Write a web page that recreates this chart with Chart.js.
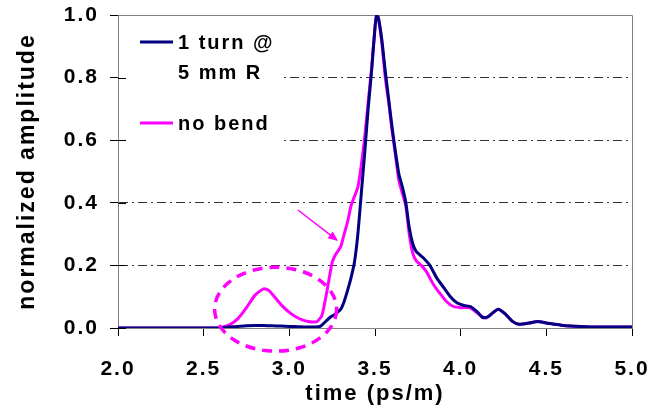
<!DOCTYPE html>
<html>
<head>
<meta charset="utf-8">
<script src="https://cdn.jsdelivr.net/npm/chart.js@4.4.1/dist/chart.umd.min.js"></script>
<style>
  html, body { margin: 0; padding: 0; background: #fff; }
  #wrap { width: 652px; height: 413px; }
</style>
</head>
<body>
<div id="wrap"><canvas id="chart" width="652" height="413"></canvas></div>
<script>
// series labels
const labelTurn = ['1 turn @', '5 mm R'];
const labelNoBend = ['no bend'];

// no bend (magenta)
const timeNoBend = [2.0, 2.3, 2.55, 2.6, 2.65, 2.7, 2.75, 2.8, 2.85, 2.88, 2.92, 2.96, 3.0, 3.04, 3.08, 3.12, 3.16, 3.19, 3.21, 3.23, 3.25, 3.27, 3.30, 3.32, 3.34, 3.36, 3.38, 3.40, 3.42, 3.44, 3.46, 3.48, 3.50, 3.51, 3.52, 3.54, 3.56, 3.58, 3.60, 3.62, 3.64, 3.66, 3.68, 3.70, 3.72, 3.74, 3.77, 3.80, 3.84, 3.88, 3.92, 3.96, 4.0, 4.05, 4.08, 4.12, 4.15, 4.18, 4.22, 4.26, 4.30, 4.34, 4.40, 4.45, 4.50, 4.55, 4.6, 4.7, 4.8, 4.9, 5.0];
const ampNoBend = [0, 0, 0, 0.002, 0.01, 0.03, 0.065, 0.105, 0.125, 0.12, 0.095, 0.07, 0.05, 0.035, 0.025, 0.02, 0.02, 0.04, 0.09, 0.15, 0.21, 0.235, 0.26, 0.30, 0.34, 0.39, 0.42, 0.45, 0.52, 0.61, 0.72, 0.83, 0.96, 1.0, 0.99, 0.91, 0.80, 0.72, 0.63, 0.55, 0.47, 0.43, 0.39, 0.30, 0.24, 0.215, 0.20, 0.18, 0.14, 0.11, 0.083, 0.068, 0.065, 0.065, 0.055, 0.038, 0.032, 0.045, 0.06, 0.045, 0.022, 0.012, 0.016, 0.021, 0.016, 0.012, 0.008, 0.005, 0.003, 0.003, 0.003];

// 1 turn @ 5 mm R (navy)
const timeTurn = [2.0, 2.55, 2.6, 2.65, 2.7, 2.75, 2.8, 2.85, 2.9, 2.95, 3.0, 3.05, 3.1, 3.15, 3.18, 3.21, 3.24, 3.27, 3.30, 3.32, 3.34, 3.36, 3.38, 3.40, 3.42, 3.44, 3.46, 3.48, 3.50, 3.51, 3.52, 3.54, 3.56, 3.58, 3.60, 3.62, 3.64, 3.66, 3.68, 3.70, 3.72, 3.74, 3.78, 3.82, 3.86, 3.90, 3.94, 3.98, 4.02, 4.06, 4.10, 4.13, 4.16, 4.19, 4.22, 4.26, 4.30, 4.34, 4.40, 4.45, 4.50, 4.55, 4.6, 4.7, 4.8, 4.9, 5.0];
const ampTurn = [0, 0, 0.001, 0.003, 0.005, 0.007, 0.008, 0.008, 0.007, 0.006, 0.005, 0.004, 0.003, 0.003, 0.005, 0.02, 0.035, 0.045, 0.06, 0.085, 0.12, 0.16, 0.21, 0.30, 0.43, 0.56, 0.70, 0.82, 0.96, 1.0, 0.99, 0.92, 0.82, 0.73, 0.64, 0.56, 0.49, 0.45, 0.40, 0.32, 0.27, 0.245, 0.225, 0.20, 0.16, 0.13, 0.10, 0.08, 0.072, 0.068, 0.05, 0.033, 0.036, 0.05, 0.06, 0.045, 0.022, 0.012, 0.016, 0.021, 0.016, 0.012, 0.008, 0.005, 0.003, 0.003, 0.003];

const xTickStep = 0.5;
const yTickStep = 0.2;

const magenta = '#FF00FF';
const navy = '#000080';

function toPoints(xs, ys) {
    return xs.map((x, i) => ({ x: x, y: ys[i] }));
}

// spacing like the original rendering
const spacing = {
    id: 'spacing',
    beforeUpdate(chart) { chart.ctx.letterSpacing = '2px'; },
    beforeDraw(chart) { chart.ctx.letterSpacing = '2px'; }
};

// white legend box, inner ticks
const legendBox = {
    id: 'legendBox',
    beforeDatasetsDraw(chart) {
        const ctx = chart.ctx;
        const a = chart.chartArea;
        const y = chart.scales.y;
        ctx.save();
        ctx.fillStyle = '#fff';
        ctx.fillRect(a.left + 1, a.top + 1, 280 - a.left, y.getPixelForValue(0.5) - a.top);
        // tick crosses into the plot
        ctx.strokeStyle = '#000';
        ctx.lineWidth = 1;
        y.ticks.forEach(t => {
            const py = Math.round(y.getPixelForValue(t.value)) + 0.5;
            ctx.beginPath();
            ctx.moveTo(a.left, py);
            ctx.lineTo(a.left + 8, py);
            ctx.stroke();
        });
        // frame top / right
        ctx.strokeStyle = '#808080';
        ctx.beginPath();
        ctx.moveTo(a.left, Math.round(a.top) + 0.5);
        ctx.lineTo(Math.round(a.right) + 0.5, Math.round(a.top) + 0.5);
        ctx.lineTo(Math.round(a.right) + 0.5, a.bottom);
        ctx.stroke();
        ctx.restore();
    },
    afterDatasetsDraw(chart) {
        const ctx = chart.ctx;
        ctx.save();
        ctx.font = 'bold 20px "Liberation Sans", Arial, sans-serif';
        ctx.letterSpacing = '2px';
        ctx.textBaseline = 'middle';
        ctx.fillStyle = '#000';
        const rows = [
            { color: navy, lines: chart.data.datasets[0].label, y: 43 },
            { color: magenta, lines: chart.data.datasets[1].label, y: 124 }
        ];
        rows.forEach(r => {
            ctx.strokeStyle = r.color;
            ctx.lineWidth = 3;
            ctx.beginPath();
            ctx.moveTo(140, r.y - 1);
            ctx.lineTo(173, r.y - 1);
            ctx.stroke();
            r.lines.forEach((s, i) => ctx.fillText(s, 178, r.y + i * 30));
        });
        ctx.restore();
    }
};

// dashed ellipse + arrow annotation
const annot = {
    id: 'annot',
    afterDatasetsDraw(chart) {
        const ctx = chart.ctx;
        const xs = chart.scales.x, ys = chart.scales.y;
        const cx = xs.getPixelForValue(2.92), cy = ys.getPixelForValue(0.06);
        const rx = xs.getPixelForValue(2.92 + 0.356) - cx;
        const ry = cy - ys.getPixelForValue(0.06 + 0.134);
        ctx.save();
        ctx.strokeStyle = magenta;
        ctx.lineWidth = 3.5;
        ctx.setLineDash([10, 7]);
        ctx.beginPath();
        ctx.ellipse(cx, cy, rx, ry, 0, 0, Math.PI * 2);
        ctx.stroke();
        ctx.setLineDash([]);
        // arrow
        const x1 = xs.getPixelForValue(3.05), y1 = ys.getPixelForValue(0.377);
        const x2 = xs.getPixelForValue(3.285), y2 = ys.getPixelForValue(0.278);
        const ang = Math.atan2(y2 - y1, x2 - x1);
        ctx.lineWidth = 1.5;
        ctx.beginPath();
        ctx.moveTo(x1, y1);
        ctx.lineTo(x2 - 8 * Math.cos(ang), y2 - 8 * Math.sin(ang));
        ctx.stroke();
        ctx.fillStyle = magenta;
        ctx.beginPath();
        ctx.moveTo(x2, y2);
        ctx.lineTo(x2 - 11 * Math.cos(ang - 0.4), y2 - 11 * Math.sin(ang - 0.4));
        ctx.lineTo(x2 - 11 * Math.cos(ang + 0.4), y2 - 11 * Math.sin(ang + 0.4));
        ctx.closePath();
        ctx.fill();
        ctx.restore();
    }
};

const tickFont = { family: '"Liberation Sans", Arial, sans-serif', size: 21, weight: 'bold' };

new Chart(document.getElementById('chart').getContext('2d'), {
    type: 'line',
    data: {
        datasets: [{
            label: labelTurn,
            data: toPoints(timeTurn, ampTurn),
            borderColor: navy,
            borderWidth: 3,
            pointRadius: 0,
            tension: 0.2,
            fill: false
        }, {
            label: labelNoBend,
            data: toPoints(timeNoBend, ampNoBend),
            borderColor: magenta,
            borderWidth: 3,
            pointRadius: 0,
            tension: 0.2,
            fill: false
        }]
    },
    options: {
        responsive: false,
        animation: false,
        layout: { padding: { left: 0, right: 20, top: 15, bottom: 0 } },
        plugins: {
            legend: { display: false },
            tooltip: { enabled: false }
        },
        scales: {
            x: {
                type: 'linear',
                min: 2,
                max: 5,
                afterFit: s => {
                    s.height = 85;
                    s.paddingLeft = 0;
                    s.paddingRight = 0;
                },
                ticks: {
                    stepSize: xTickStep,
                    color: '#000',
                    font: tickFont,
                    padding: 21,
                    maxRotation: 0,
                    callback: v => v.toFixed(1)
                },
                grid: {
                    drawOnChartArea: false,
                    drawTicks: true,
                    tickLength: 8,
                    tickColor: '#000'
                },
                border: { color: '#808080', width: 1 },
                title: {
                    display: true,
                    text: 'time (ps/m)',
                    color: '#000',
                    font: { family: '"Liberation Sans", Arial, sans-serif', size: 22, weight: 'bold' },
                    padding: 6
                }
            },
            y: {
                min: 0,
                max: 1,
                afterFit: s => {
                    s.width = 118;
                    s.paddingTop = 0;
                    s.paddingBottom = 0;
                },
                ticks: {
                    stepSize: yTickStep,
                    color: '#000',
                    font: tickFont,
                    padding: 11,
                    callback: v => v.toFixed(1)
                },
                grid: {
                    color: c => (c.tick && (c.tick.value === 0 || c.tick.value === 1)) ? 'rgba(0,0,0,0)' : '#333',
                    lineWidth: 1,
                    tickLength: 8,
                    tickColor: '#000',
                    tickBorderDash: []
                },
                border: { color: '#808080', width: 1, dash: [9, 4, 2, 4] },
                title: {
                    display: true,
                    text: 'normalized amplitude',
                    color: '#000',
                    font: { family: '"Liberation Sans", Arial, sans-serif', size: 23, weight: 'bold' },
                    padding: 14
                }
            }
        }
    },
    plugins: [spacing, legendBox, annot]
});
</script>
</body>
</html>
